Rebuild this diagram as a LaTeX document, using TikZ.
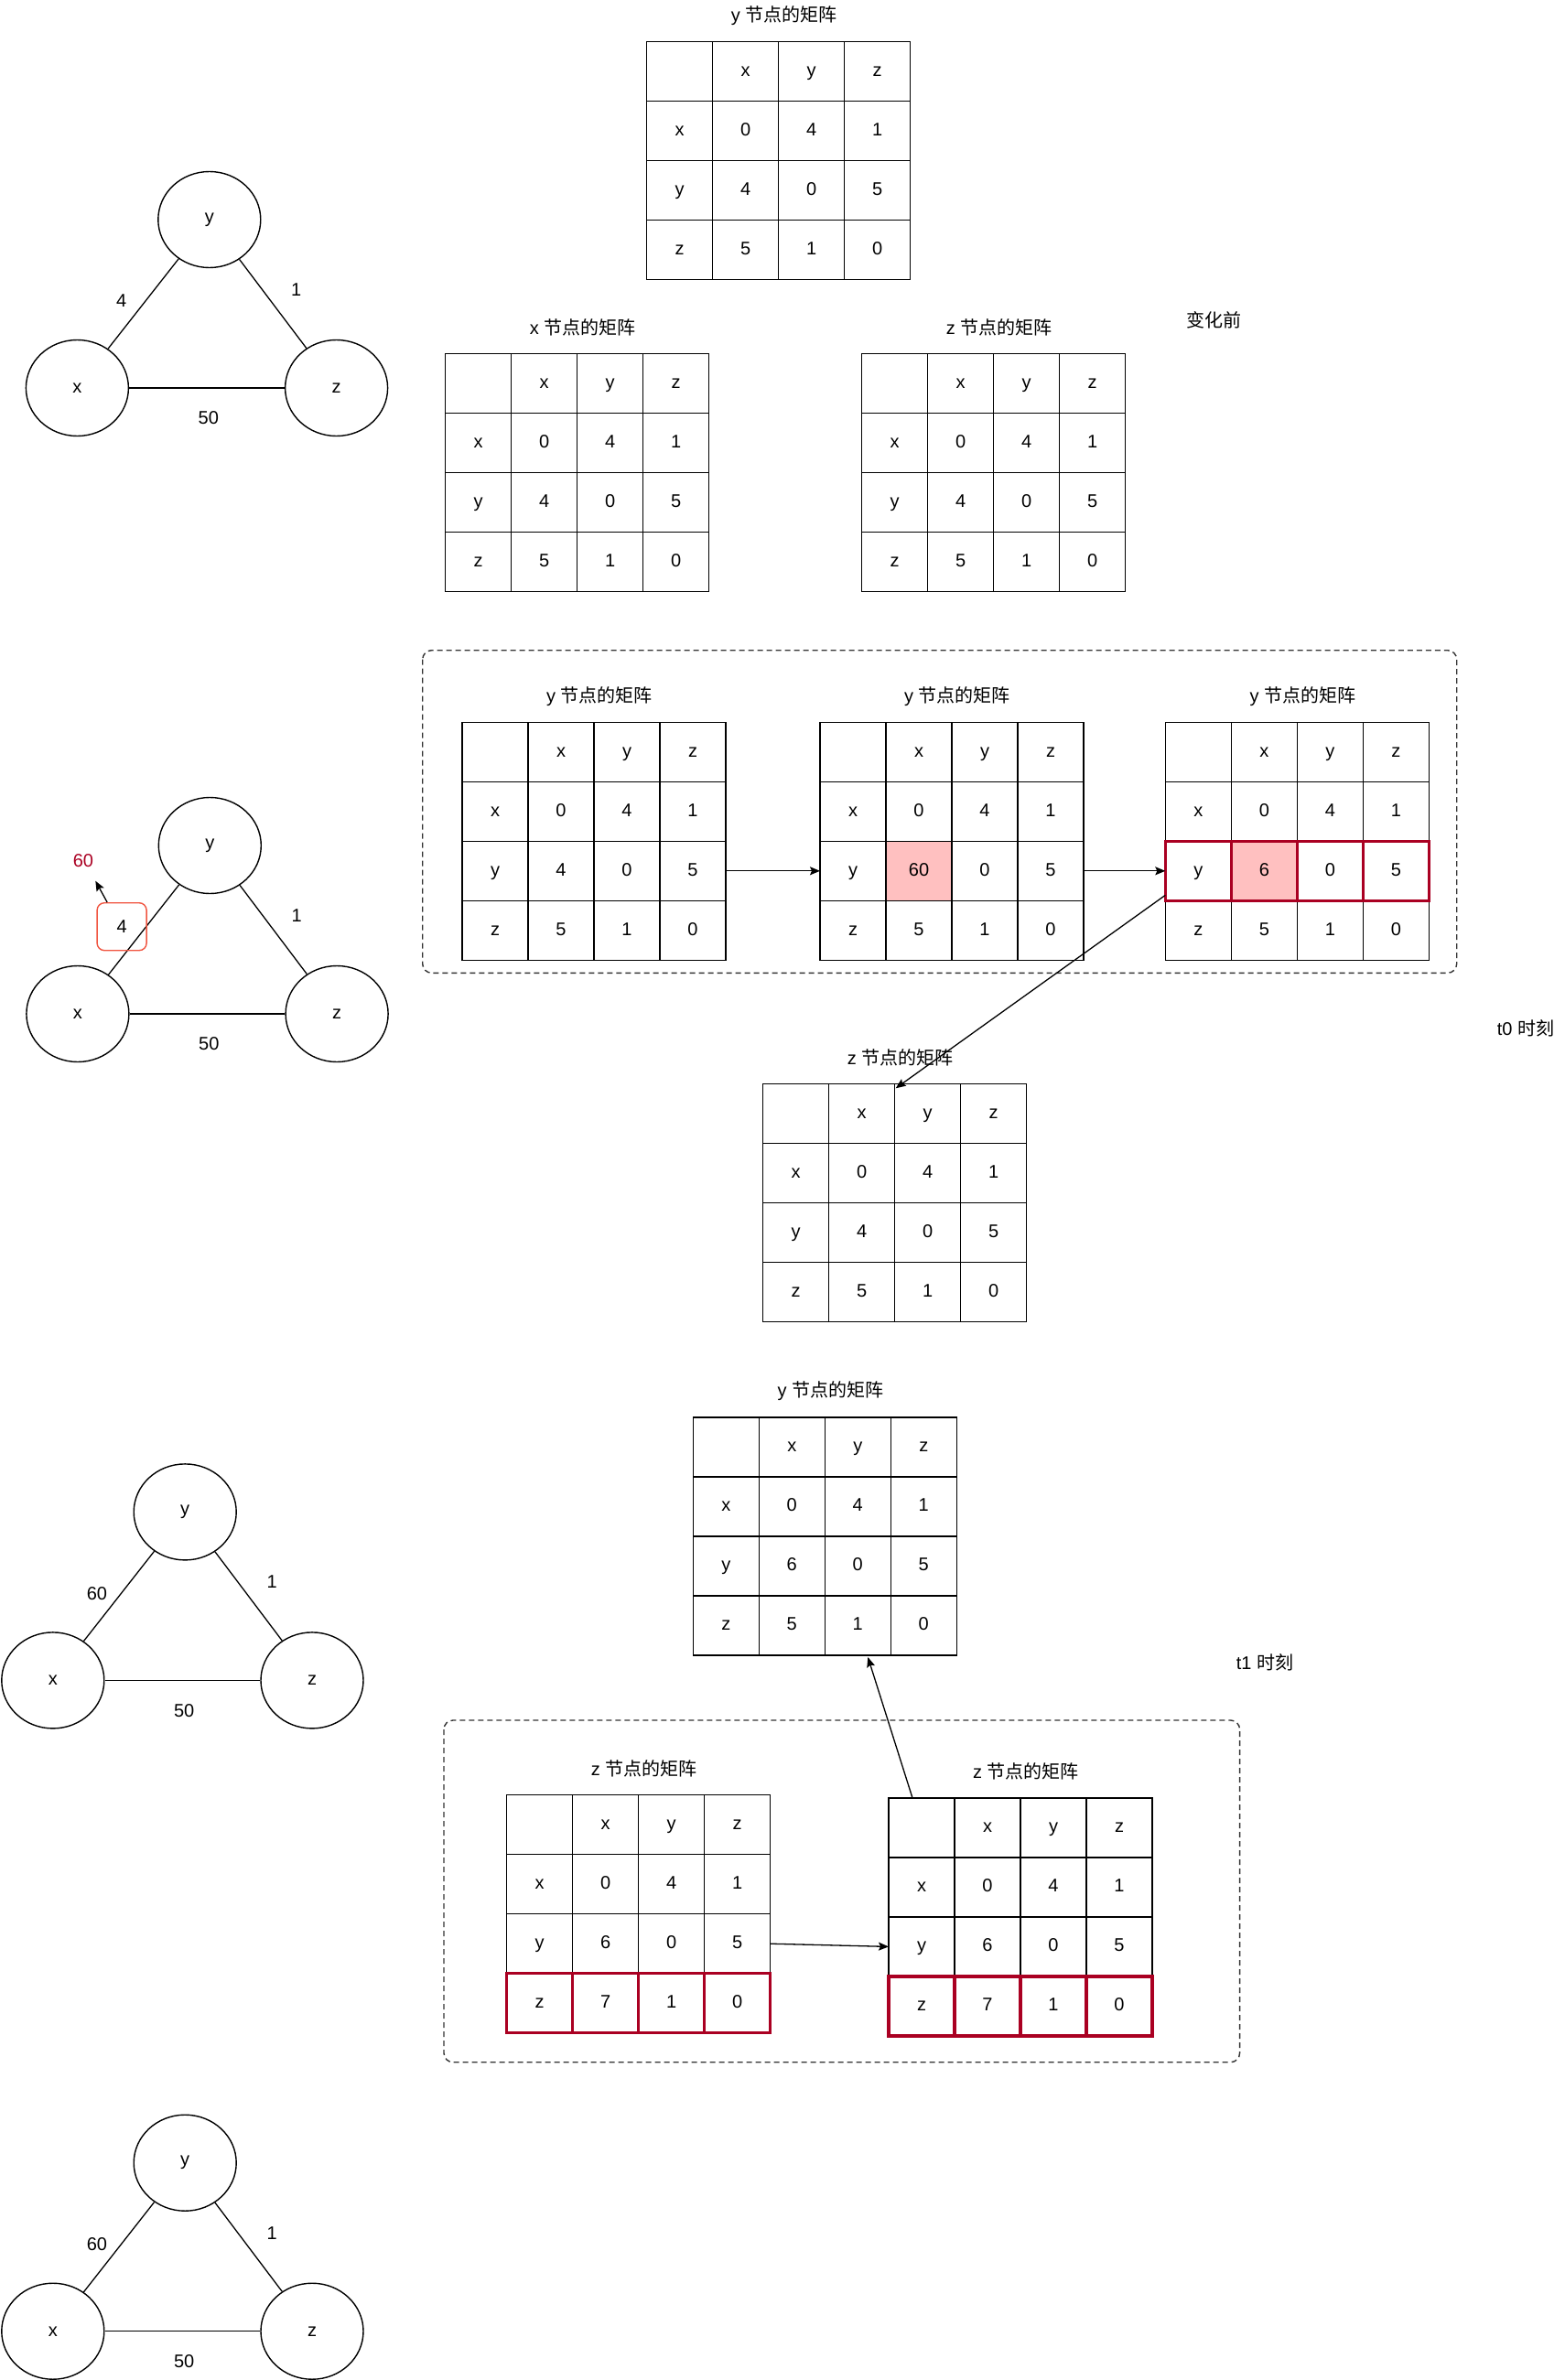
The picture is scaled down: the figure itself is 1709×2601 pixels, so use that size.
\documentclass[tikz,border=0pt]{standalone}
\usepackage{fontspec}
\setmainfont{Liberation Sans}
\newfontfamily\cjk{Noto Sans CJK SC}
\usetikzlibrary{matrix,shapes.geometric,arrows.meta,calc}
\definecolor{crim}{RGB}{170,0,34}
\definecolor{pinkf}{RGB}{255,192,192}
\definecolor{boxred}{RGB}{240,84,64}
\tikzset{
  cell/.style={draw, line width=1.4pt, minimum width=72pt, minimum height=65pt, inner sep=0pt, outer sep=0pt, anchor=center, text height=14.5pt, text depth=4pt},
  mtx/.style={matrix of nodes, nodes in empty cells, ampersand replacement=\&, column sep=-1.4pt, row sep=-1.4pt, inner sep=0pt, outer sep=0pt, anchor=north west, nodes={cell}},
  redb/.style={draw=crim, line width=3.3pt},
  ttl/.style={inner sep=0pt},
  lbl/.style={inner sep=1pt},
  gnode/.style={ellipse, draw, line width=1.4pt, minimum width=112pt, minimum height=105pt, inner sep=0pt},
  edge/.style={line width=1.3pt},
  arr/.style={-{Stealth[length=11pt,width=9pt,inset=2pt]}, line width=1.3pt},
  dashbox/.style={draw=black!80, line width=1.4pt, dash pattern=on 6pt off 4pt, rounded corners=10pt},
  boxlbl/.style={draw=boxred, rounded corners=8pt, minimum width=54pt, minimum height=52pt, line width=1.4pt},
}
\newcommand\trigraph[5]{%
  \node[gnode] (#1y) at (#2,#3) {y};
  \node[gnode] (#1x) at ({#2-144.4},{#3+184}) {x};
  \node[gnode] (#1z) at ({#2+138.8},{#3+184}) {z};
  \draw[edge] (#1x) -- (#1y);
  \draw[edge] (#1y) -- (#1z);
  \draw[edge] (#1x) -- (#1z);
  \node[lbl,#4] (#1a) at ({#2-96.2},{#3+88.7}) {#5};
  \node[lbl] (#1b) at ({#2+95},{#3+76.5}) {1};
  \node[lbl] (#1c) at ({#2-1},{#3+217}) {50};
}
\begin{document}
\begin{tikzpicture}[x=1pt,y=-1pt,font=\fontsize{20}{24}\selectfont]
\useasboundingbox (0,0) rectangle (1709,2601);

% graphs
\trigraph{ga}{228.8}{240}{}{4}
\trigraph{gb}{229.3}{924}{boxlbl}{4}
\trigraph{gc}{202.2}{1652.4}{}{60}
\trigraph{gd}{202.2}{2363.7}{}{60}
\node[lbl,text=crim] (gbsixty) at (91,940.7) {60};
\coordinate (gbtip) at (104.3,962.7);
\draw[arr] ($(gba.north west)+(11.7,0)$) -- (gbtip);

% top tables
\matrix (A) [mtx] at (706,45) {
 \& x \& y \& z \\
x \& 0 \& 4 \& 1 \\
y \& 4 \& 0 \& 5 \\
z \& 5 \& 1 \& 0 \\
};
\node[ttl] (At) at ($(A.north)+(6,-28)$) {y {\cjk 节点的矩阵}};

\matrix (B) [mtx] at (486,386) {
 \& x \& y \& z \\
x \& 0 \& 4 \& 1 \\
y \& 4 \& 0 \& 5 \\
z \& 5 \& 1 \& 0 \\
};
\node[ttl] (Bt) at ($(B.north)+(6,-28)$) {x {\cjk 节点的矩阵}};

\matrix (C) [mtx] at (941,386) {
 \& x \& y \& z \\
x \& 0 \& 4 \& 1 \\
y \& 4 \& 0 \& 5 \\
z \& 5 \& 1 \& 0 \\
};
\node[ttl] (Ct) at ($(C.north)+(6,-28)$) {z {\cjk 节点的矩阵}};
\node[lbl] (before) at (1326.3,350) {\cjk 变化前};

% t0 group
\draw[dashbox] (461.7,710.7) rectangle (1591.7,1063.3);
\matrix (T1) [mtx] at (504.3,788.6) {
 \& x \& y \& z \\
x \& 0 \& 4 \& 1 \\
y \& 4 \& 0 \& 5 \\
z \& 5 \& 1 \& 0 \\
};
\node[ttl] (T1t) at ($(T1.north)+(6,-27)$) {y {\cjk 节点的矩阵}};
\matrix (T2) [mtx] at (895.3,788.6) {
 \& x \& y \& z \\
x \& 0 \& 4 \& 1 \\
y \& |[fill=pinkf]| 60 \& 0 \& 5 \\
z \& 5 \& 1 \& 0 \\
};
\node[ttl] (T2t) at ($(T2.north)+(6,-27)$) {y {\cjk 节点的矩阵}};
\matrix (T3) [mtx] at (1272.6,788.6) {
 \& x \& y \& z \\
x \& 0 \& 4 \& 1 \\
y \& |[fill=pinkf]| 6 \& 0 \& 5 \\
z \& 5 \& 1 \& 0 \\
};
\node[ttl] (T3t) at ($(T3.north)+(6,-27)$) {y {\cjk 节点的矩阵}};
\foreach \k in {1,...,4} \draw[redb] (T3-3-\k.north west) rectangle (T3-3-\k.south east);

\matrix (D) [mtx] at (833,1183.6) {
 \& x \& y \& z \\
x \& 0 \& 4 \& 1 \\
y \& 4 \& 0 \& 5 \\
z \& 5 \& 1 \& 0 \\
};
\node[ttl] (Dt) at ($(D.north)+(6,-27.5)$) {z {\cjk 节点的矩阵}};
\node[lbl] (tzero) at (1667,1123.6) {t0 {\cjk 时刻}};

\draw[arr] (T1-3-4.east) -- (T2-3-1.west);
\draw[arr] (T2-3-4.east) -- (T3-3-1.west);
\draw[arr] ($(T3-3-1.south west)+(0,-6)$) -- ($(D-1-2.north east)+(1,5)$);

% t1 group
\matrix (E) [mtx] at (756.6,1548.3) {
 \& x \& y \& z \\
x \& 0 \& 4 \& 1 \\
y \& 6 \& 0 \& 5 \\
z \& 5 \& 1 \& 0 \\
};
\node[ttl] (Et) at ($(E.north)+(6,-28.5)$) {y {\cjk 节点的矩阵}};
\node[lbl] (tone) at (1382,1816.7) {t1 {\cjk 时刻}};

\draw[dashbox] (485,1880) rectangle (1354.6,2253.7);
\matrix (T4) [mtx] at (553,1961) {
 \& x \& y \& z \\
x \& 0 \& 4 \& 1 \\
y \& 6 \& 0 \& 5 \\
z \& 7 \& 1 \& 0 \\
};
\node[ttl] (T4t) at ($(T4.north)+(6,-28)$) {z {\cjk 节点的矩阵}};
\matrix (T5) [mtx] at (970.3,1964.2) {
 \& x \& y \& z \\
x \& 0 \& 4 \& 1 \\
y \& 6 \& 0 \& 5 \\
z \& 7 \& 1 \& 0 \\
};
\node[ttl] (T5t) at ($(T5.north)+(6,-28)$) {z {\cjk 节点的矩阵}};
\foreach \k in {1,...,4} {
  \draw[redb] (T4-4-\k.north west) rectangle (T4-4-\k.south east);
  \draw[redb] (T5-4-\k.north west) rectangle (T5-4-\k.south east);
}
\draw[arr] (T4-3-4.east) -- (T5-3-1.west);
\draw[arr] ($(T5-1-1.north)+(-10,0)$) -- ($(E-4-3.south)+(11,2)$);
\end{tikzpicture}
\end{document}
